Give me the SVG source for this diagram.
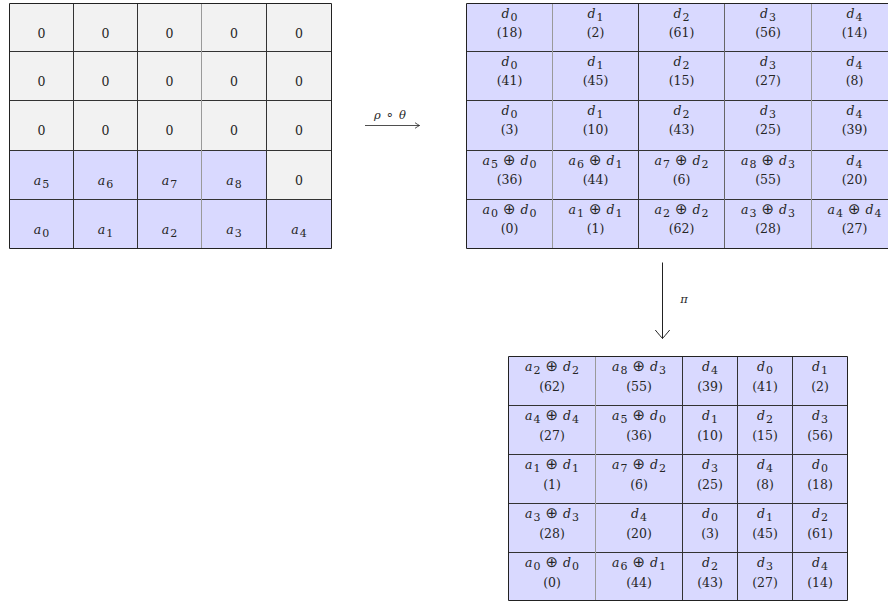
<svg xmlns="http://www.w3.org/2000/svg" width="888" height="603" viewBox="0 0 888 603">
  <style>
    .g { fill: #f2f2f2; }
    .b { fill: #d9d9ff; }
    .lb { font-family: "DejaVu Serif", "Liberation Serif", serif; font-size: 12.5px; fill: #262626; text-anchor: middle; }
    .i { font-style: italic; }
    .s { font-size: 11px; font-style: normal; }
    .o { font-family: "DejaVu Sans", sans-serif; font-size: 15px; font-style: normal; }
    .rule { fill: none; stroke: #333; stroke-width: 1; }
    .rule-mid { fill: none; stroke: #666; stroke-width: 1; }
    .rule-lt { fill: none; stroke: #9a9a9a; stroke-width: 1; }
    .edge { fill: none; stroke: #222; stroke-width: 1; }
    .ml { font-family: "DejaVu Serif", "Liberation Serif", serif; font-size: 11.5px; fill: #262626; text-anchor: middle; }
    .ring { font-family: "DejaVu Sans", sans-serif; font-size: 13px; font-style: normal; }
  </style>
  <defs>
    <marker id="to-small" markerUnits="userSpaceOnUse" viewBox="-6 -4 8 8" refX="0" refY="0" markerWidth="8" markerHeight="8" orient="auto" overflow="visible">
      <path d="M-4.5,-2.8 Q-1.3,-0.6 0,0 Q-1.3,0.6 -4.5,2.8" fill="none" stroke="#222" stroke-width="0.8"/>
    </marker>
    <marker id="to-large" markerUnits="userSpaceOnUse" viewBox="-10 -8 12 16" refX="0" refY="0" markerWidth="12" markerHeight="16" orient="auto" overflow="visible">
      <path d="M-8.5,-7.2 Q-2.2,-2 0,0 Q-2.2,2 -8.5,7.2" fill="none" stroke="#222" stroke-width="1"/>
    </marker>
  </defs>

  <!-- input matrix: zero padding above the a_i values -->
  <g id="input">
    <g id="in-0-0"><rect class="g" x="9.5" y="3.5" width="64" height="48"/><text class="lb" x="41.5" y="38">0</text></g>
    <g id="in-0-1"><rect class="g" x="73.5" y="3.5" width="64" height="48"/><text class="lb" x="105.5" y="38">0</text></g>
    <g id="in-0-2"><rect class="g" x="137.5" y="3.5" width="64" height="48"/><text class="lb" x="169.5" y="38">0</text></g>
    <g id="in-0-3"><rect class="g" x="201.5" y="3.5" width="65" height="48"/><text class="lb" x="234" y="38">0</text></g>
    <g id="in-0-4"><rect class="g" x="266.5" y="3.5" width="65" height="48"/><text class="lb" x="299" y="38">0</text></g>

    <g id="in-1-0"><rect class="g" x="9.5" y="51.5" width="64" height="49"/><text class="lb" x="41.5" y="86">0</text></g>
    <g id="in-1-1"><rect class="g" x="73.5" y="51.5" width="64" height="49"/><text class="lb" x="105.5" y="86">0</text></g>
    <g id="in-1-2"><rect class="g" x="137.5" y="51.5" width="64" height="49"/><text class="lb" x="169.5" y="86">0</text></g>
    <g id="in-1-3"><rect class="g" x="201.5" y="51.5" width="65" height="49"/><text class="lb" x="234" y="86">0</text></g>
    <g id="in-1-4"><rect class="g" x="266.5" y="51.5" width="65" height="49"/><text class="lb" x="299" y="86">0</text></g>

    <g id="in-2-0"><rect class="g" x="9.5" y="100.5" width="64" height="50"/><text class="lb" x="41.5" y="135">0</text></g>
    <g id="in-2-1"><rect class="g" x="73.5" y="100.5" width="64" height="50"/><text class="lb" x="105.5" y="135">0</text></g>
    <g id="in-2-2"><rect class="g" x="137.5" y="100.5" width="64" height="50"/><text class="lb" x="169.5" y="135">0</text></g>
    <g id="in-2-3"><rect class="g" x="201.5" y="100.5" width="65" height="50"/><text class="lb" x="234" y="135">0</text></g>
    <g id="in-2-4"><rect class="g" x="266.5" y="100.5" width="65" height="50"/><text class="lb" x="299" y="135">0</text></g>

    <g id="in-3-0"><rect class="b" x="9.5" y="150.5" width="64" height="49"/><text class="lb" x="41.5" y="185"><tspan class="i">a</tspan><tspan class="s" dx="1" dy="3">5</tspan></text></g>
    <g id="in-3-1"><rect class="b" x="73.5" y="150.5" width="64" height="49"/><text class="lb" x="105.5" y="185"><tspan class="i">a</tspan><tspan class="s" dx="1" dy="3">6</tspan></text></g>
    <g id="in-3-2"><rect class="b" x="137.5" y="150.5" width="64" height="49"/><text class="lb" x="169.5" y="185"><tspan class="i">a</tspan><tspan class="s" dx="1" dy="3">7</tspan></text></g>
    <g id="in-3-3"><rect class="b" x="201.5" y="150.5" width="65" height="49"/><text class="lb" x="234" y="185"><tspan class="i">a</tspan><tspan class="s" dx="1" dy="3">8</tspan></text></g>
    <g id="in-3-4"><rect class="g" x="266.5" y="150.5" width="65" height="49"/><text class="lb" x="299" y="185">0</text></g>

    <g id="in-4-0"><rect class="b" x="9.5" y="199.5" width="64" height="49"/><text class="lb" x="41.5" y="234"><tspan class="i">a</tspan><tspan class="s" dx="1" dy="3">0</tspan></text></g>
    <g id="in-4-1"><rect class="b" x="73.5" y="199.5" width="64" height="49"/><text class="lb" x="105.5" y="234"><tspan class="i">a</tspan><tspan class="s" dx="1" dy="3">1</tspan></text></g>
    <g id="in-4-2"><rect class="b" x="137.5" y="199.5" width="64" height="49"/><text class="lb" x="169.5" y="234"><tspan class="i">a</tspan><tspan class="s" dx="1" dy="3">2</tspan></text></g>
    <g id="in-4-3"><rect class="b" x="201.5" y="199.5" width="65" height="49"/><text class="lb" x="234" y="234"><tspan class="i">a</tspan><tspan class="s" dx="1" dy="3">3</tspan></text></g>
    <g id="in-4-4"><rect class="b" x="266.5" y="199.5" width="65" height="49"/><text class="lb" x="299" y="234"><tspan class="i">a</tspan><tspan class="s" dx="1" dy="3">4</tspan></text></g>

    <path class="rule" d="M9.5,51.5H331.5M9.5,100.5H331.5M9.5,150.5H331.5M9.5,199.5H331.5M73.5,3.5V248.5M137.5,3.5V248.5M266.5,3.5V248.5"/>
    <path class="rule-lt" d="M201.5,3.5V248.5"/>
    <path class="edge" d="M9.5,3.5H331.5V248.5H9.5Z"/>
  </g>

  <!-- encoded matrix after rho o theta -->
  <g id="encoded">
    <g id="enc-0-0"><rect class="b" x="466.5" y="3.5" width="86" height="48"/><text class="lb" x="509.5" y="17.5"><tspan class="i">d</tspan><tspan class="s" dx="1" dy="3">0</tspan></text><text class="lb" x="509.5" y="36.5">(18)</text></g>
    <g id="enc-0-1"><rect class="b" x="552.5" y="3.5" width="86" height="48"/><text class="lb" x="595.5" y="17.5"><tspan class="i">d</tspan><tspan class="s" dx="1" dy="3">1</tspan></text><text class="lb" x="595.5" y="36.5">(2)</text></g>
    <g id="enc-0-2"><rect class="b" x="638.5" y="3.5" width="86" height="48"/><text class="lb" x="681.5" y="17.5"><tspan class="i">d</tspan><tspan class="s" dx="1" dy="3">2</tspan></text><text class="lb" x="681.5" y="36.5">(61)</text></g>
    <g id="enc-0-3"><rect class="b" x="724.5" y="3.5" width="87" height="48"/><text class="lb" x="768" y="17.5"><tspan class="i">d</tspan><tspan class="s" dx="1" dy="3">3</tspan></text><text class="lb" x="768" y="36.5">(56)</text></g>
    <g id="enc-0-4"><rect class="b" x="811.5" y="3.5" width="86" height="48"/><text class="lb" x="854.5" y="17.5"><tspan class="i">d</tspan><tspan class="s" dx="1" dy="3">4</tspan></text><text class="lb" x="854.5" y="36.5">(14)</text></g>

    <g id="enc-1-0"><rect class="b" x="466.5" y="51.5" width="86" height="49"/><text class="lb" x="509.5" y="65.5"><tspan class="i">d</tspan><tspan class="s" dx="1" dy="3">0</tspan></text><text class="lb" x="509.5" y="84.5">(41)</text></g>
    <g id="enc-1-1"><rect class="b" x="552.5" y="51.5" width="86" height="49"/><text class="lb" x="595.5" y="65.5"><tspan class="i">d</tspan><tspan class="s" dx="1" dy="3">1</tspan></text><text class="lb" x="595.5" y="84.5">(45)</text></g>
    <g id="enc-1-2"><rect class="b" x="638.5" y="51.5" width="86" height="49"/><text class="lb" x="681.5" y="65.5"><tspan class="i">d</tspan><tspan class="s" dx="1" dy="3">2</tspan></text><text class="lb" x="681.5" y="84.5">(15)</text></g>
    <g id="enc-1-3"><rect class="b" x="724.5" y="51.5" width="87" height="49"/><text class="lb" x="768" y="65.5"><tspan class="i">d</tspan><tspan class="s" dx="1" dy="3">3</tspan></text><text class="lb" x="768" y="84.5">(27)</text></g>
    <g id="enc-1-4"><rect class="b" x="811.5" y="51.5" width="86" height="49"/><text class="lb" x="854.5" y="65.5"><tspan class="i">d</tspan><tspan class="s" dx="1" dy="3">4</tspan></text><text class="lb" x="854.5" y="84.5">(8)</text></g>

    <g id="enc-2-0"><rect class="b" x="466.5" y="100.5" width="86" height="50"/><text class="lb" x="509.5" y="114.5"><tspan class="i">d</tspan><tspan class="s" dx="1" dy="3">0</tspan></text><text class="lb" x="509.5" y="133.5">(3)</text></g>
    <g id="enc-2-1"><rect class="b" x="552.5" y="100.5" width="86" height="50"/><text class="lb" x="595.5" y="114.5"><tspan class="i">d</tspan><tspan class="s" dx="1" dy="3">1</tspan></text><text class="lb" x="595.5" y="133.5">(10)</text></g>
    <g id="enc-2-2"><rect class="b" x="638.5" y="100.5" width="86" height="50"/><text class="lb" x="681.5" y="114.5"><tspan class="i">d</tspan><tspan class="s" dx="1" dy="3">2</tspan></text><text class="lb" x="681.5" y="133.5">(43)</text></g>
    <g id="enc-2-3"><rect class="b" x="724.5" y="100.5" width="87" height="50"/><text class="lb" x="768" y="114.5"><tspan class="i">d</tspan><tspan class="s" dx="1" dy="3">3</tspan></text><text class="lb" x="768" y="133.5">(25)</text></g>
    <g id="enc-2-4"><rect class="b" x="811.5" y="100.5" width="86" height="50"/><text class="lb" x="854.5" y="114.5"><tspan class="i">d</tspan><tspan class="s" dx="1" dy="3">4</tspan></text><text class="lb" x="854.5" y="133.5">(39)</text></g>

    <g id="enc-3-0"><rect class="b" x="466.5" y="150.5" width="86" height="49"/><text class="lb" x="509.5" y="164.5"><tspan class="i">a</tspan><tspan class="s" dx="1" dy="3">5</tspan><tspan class="o" dx="5" dy="-3">⊕</tspan><tspan class="i" dx="5">d</tspan><tspan class="s" dx="1" dy="3">0</tspan></text><text class="lb" x="509.5" y="183.5">(36)</text></g>
    <g id="enc-3-1"><rect class="b" x="552.5" y="150.5" width="86" height="49"/><text class="lb" x="595.5" y="164.5"><tspan class="i">a</tspan><tspan class="s" dx="1" dy="3">6</tspan><tspan class="o" dx="5" dy="-3">⊕</tspan><tspan class="i" dx="5">d</tspan><tspan class="s" dx="1" dy="3">1</tspan></text><text class="lb" x="595.5" y="183.5">(44)</text></g>
    <g id="enc-3-2"><rect class="b" x="638.5" y="150.5" width="86" height="49"/><text class="lb" x="681.5" y="164.5"><tspan class="i">a</tspan><tspan class="s" dx="1" dy="3">7</tspan><tspan class="o" dx="5" dy="-3">⊕</tspan><tspan class="i" dx="5">d</tspan><tspan class="s" dx="1" dy="3">2</tspan></text><text class="lb" x="681.5" y="183.5">(6)</text></g>
    <g id="enc-3-3"><rect class="b" x="724.5" y="150.5" width="87" height="49"/><text class="lb" x="768" y="164.5"><tspan class="i">a</tspan><tspan class="s" dx="1" dy="3">8</tspan><tspan class="o" dx="5" dy="-3">⊕</tspan><tspan class="i" dx="5">d</tspan><tspan class="s" dx="1" dy="3">3</tspan></text><text class="lb" x="768" y="183.5">(55)</text></g>
    <g id="enc-3-4"><rect class="b" x="811.5" y="150.5" width="86" height="49"/><text class="lb" x="854.5" y="164.5"><tspan class="i">d</tspan><tspan class="s" dx="1" dy="3">4</tspan></text><text class="lb" x="854.5" y="183.5">(20)</text></g>

    <g id="enc-4-0"><rect class="b" x="466.5" y="199.5" width="86" height="49"/><text class="lb" x="509.5" y="213.5"><tspan class="i">a</tspan><tspan class="s" dx="1" dy="3">0</tspan><tspan class="o" dx="5" dy="-3">⊕</tspan><tspan class="i" dx="5">d</tspan><tspan class="s" dx="1" dy="3">0</tspan></text><text class="lb" x="509.5" y="232.5">(0)</text></g>
    <g id="enc-4-1"><rect class="b" x="552.5" y="199.5" width="86" height="49"/><text class="lb" x="595.5" y="213.5"><tspan class="i">a</tspan><tspan class="s" dx="1" dy="3">1</tspan><tspan class="o" dx="5" dy="-3">⊕</tspan><tspan class="i" dx="5">d</tspan><tspan class="s" dx="1" dy="3">1</tspan></text><text class="lb" x="595.5" y="232.5">(1)</text></g>
    <g id="enc-4-2"><rect class="b" x="638.5" y="199.5" width="86" height="49"/><text class="lb" x="681.5" y="213.5"><tspan class="i">a</tspan><tspan class="s" dx="1" dy="3">2</tspan><tspan class="o" dx="5" dy="-3">⊕</tspan><tspan class="i" dx="5">d</tspan><tspan class="s" dx="1" dy="3">2</tspan></text><text class="lb" x="681.5" y="232.5">(62)</text></g>
    <g id="enc-4-3"><rect class="b" x="724.5" y="199.5" width="87" height="49"/><text class="lb" x="768" y="213.5"><tspan class="i">a</tspan><tspan class="s" dx="1" dy="3">3</tspan><tspan class="o" dx="5" dy="-3">⊕</tspan><tspan class="i" dx="5">d</tspan><tspan class="s" dx="1" dy="3">3</tspan></text><text class="lb" x="768" y="232.5">(28)</text></g>
    <g id="enc-4-4"><rect class="b" x="811.5" y="199.5" width="86" height="49"/><text class="lb" x="854.5" y="213.5"><tspan class="i">a</tspan><tspan class="s" dx="1" dy="3">4</tspan><tspan class="o" dx="5" dy="-3">⊕</tspan><tspan class="i" dx="5">d</tspan><tspan class="s" dx="1" dy="3">4</tspan></text><text class="lb" x="854.5" y="232.5">(27)</text></g>

    <path class="rule" d="M466.5,51.5H897.5M466.5,100.5H897.5M466.5,150.5H897.5M466.5,199.5H897.5M638.5,3.5V248.5"/>
    <path class="rule-mid" d="M724.5,3.5V248.5"/>
    <path class="rule-lt" d="M552.5,3.5V248.5M811.5,3.5V248.5"/>
    <path class="edge" d="M466.5,3.5H897.5V248.5H466.5Z"/>
  </g>

  <!-- permuted matrix after pi -->
  <g id="permuted">
    <g id="perm-0-0"><rect class="b" x="508.5" y="356.5" width="87" height="49"/><text class="lb" x="552" y="371"><tspan class="i">a</tspan><tspan class="s" dx="1" dy="3">2</tspan><tspan class="o" dx="5" dy="-3">⊕</tspan><tspan class="i" dx="5">d</tspan><tspan class="s" dx="1" dy="3">2</tspan></text><text class="lb" x="552" y="390.5">(62)</text></g>
    <g id="perm-0-1"><rect class="b" x="595.5" y="356.5" width="87" height="49"/><text class="lb" x="639" y="371"><tspan class="i">a</tspan><tspan class="s" dx="1" dy="3">8</tspan><tspan class="o" dx="5" dy="-3">⊕</tspan><tspan class="i" dx="5">d</tspan><tspan class="s" dx="1" dy="3">3</tspan></text><text class="lb" x="639" y="390.5">(55)</text></g>
    <g id="perm-0-2"><rect class="b" x="682.5" y="356.5" width="55" height="49"/><text class="lb" x="710" y="371"><tspan class="i">d</tspan><tspan class="s" dx="1" dy="3">4</tspan></text><text class="lb" x="710" y="390.5">(39)</text></g>
    <g id="perm-0-3"><rect class="b" x="737.5" y="356.5" width="55" height="49"/><text class="lb" x="765" y="371"><tspan class="i">d</tspan><tspan class="s" dx="1" dy="3">0</tspan></text><text class="lb" x="765" y="390.5">(41)</text></g>
    <g id="perm-0-4"><rect class="b" x="792.5" y="356.5" width="55" height="49"/><text class="lb" x="820" y="371"><tspan class="i">d</tspan><tspan class="s" dx="1" dy="3">1</tspan></text><text class="lb" x="820" y="390.5">(2)</text></g>

    <g id="perm-1-0"><rect class="b" x="508.5" y="405.5" width="87" height="49"/><text class="lb" x="552" y="420"><tspan class="i">a</tspan><tspan class="s" dx="1" dy="3">4</tspan><tspan class="o" dx="5" dy="-3">⊕</tspan><tspan class="i" dx="5">d</tspan><tspan class="s" dx="1" dy="3">4</tspan></text><text class="lb" x="552" y="439.5">(27)</text></g>
    <g id="perm-1-1"><rect class="b" x="595.5" y="405.5" width="87" height="49"/><text class="lb" x="639" y="420"><tspan class="i">a</tspan><tspan class="s" dx="1" dy="3">5</tspan><tspan class="o" dx="5" dy="-3">⊕</tspan><tspan class="i" dx="5">d</tspan><tspan class="s" dx="1" dy="3">0</tspan></text><text class="lb" x="639" y="439.5">(36)</text></g>
    <g id="perm-1-2"><rect class="b" x="682.5" y="405.5" width="55" height="49"/><text class="lb" x="710" y="420"><tspan class="i">d</tspan><tspan class="s" dx="1" dy="3">1</tspan></text><text class="lb" x="710" y="439.5">(10)</text></g>
    <g id="perm-1-3"><rect class="b" x="737.5" y="405.5" width="55" height="49"/><text class="lb" x="765" y="420"><tspan class="i">d</tspan><tspan class="s" dx="1" dy="3">2</tspan></text><text class="lb" x="765" y="439.5">(15)</text></g>
    <g id="perm-1-4"><rect class="b" x="792.5" y="405.5" width="55" height="49"/><text class="lb" x="820" y="420"><tspan class="i">d</tspan><tspan class="s" dx="1" dy="3">3</tspan></text><text class="lb" x="820" y="439.5">(56)</text></g>

    <g id="perm-2-0"><rect class="b" x="508.5" y="454.5" width="87" height="49"/><text class="lb" x="552" y="469"><tspan class="i">a</tspan><tspan class="s" dx="1" dy="3">1</tspan><tspan class="o" dx="5" dy="-3">⊕</tspan><tspan class="i" dx="5">d</tspan><tspan class="s" dx="1" dy="3">1</tspan></text><text class="lb" x="552" y="488.5">(1)</text></g>
    <g id="perm-2-1"><rect class="b" x="595.5" y="454.5" width="87" height="49"/><text class="lb" x="639" y="469"><tspan class="i">a</tspan><tspan class="s" dx="1" dy="3">7</tspan><tspan class="o" dx="5" dy="-3">⊕</tspan><tspan class="i" dx="5">d</tspan><tspan class="s" dx="1" dy="3">2</tspan></text><text class="lb" x="639" y="488.5">(6)</text></g>
    <g id="perm-2-2"><rect class="b" x="682.5" y="454.5" width="55" height="49"/><text class="lb" x="710" y="469"><tspan class="i">d</tspan><tspan class="s" dx="1" dy="3">3</tspan></text><text class="lb" x="710" y="488.5">(25)</text></g>
    <g id="perm-2-3"><rect class="b" x="737.5" y="454.5" width="55" height="49"/><text class="lb" x="765" y="469"><tspan class="i">d</tspan><tspan class="s" dx="1" dy="3">4</tspan></text><text class="lb" x="765" y="488.5">(8)</text></g>
    <g id="perm-2-4"><rect class="b" x="792.5" y="454.5" width="55" height="49"/><text class="lb" x="820" y="469"><tspan class="i">d</tspan><tspan class="s" dx="1" dy="3">0</tspan></text><text class="lb" x="820" y="488.5">(18)</text></g>

    <g id="perm-3-0"><rect class="b" x="508.5" y="503.5" width="87" height="49"/><text class="lb" x="552" y="518"><tspan class="i">a</tspan><tspan class="s" dx="1" dy="3">3</tspan><tspan class="o" dx="5" dy="-3">⊕</tspan><tspan class="i" dx="5">d</tspan><tspan class="s" dx="1" dy="3">3</tspan></text><text class="lb" x="552" y="537.5">(28)</text></g>
    <g id="perm-3-1"><rect class="b" x="595.5" y="503.5" width="87" height="49"/><text class="lb" x="639" y="518"><tspan class="i">d</tspan><tspan class="s" dx="1" dy="3">4</tspan></text><text class="lb" x="639" y="537.5">(20)</text></g>
    <g id="perm-3-2"><rect class="b" x="682.5" y="503.5" width="55" height="49"/><text class="lb" x="710" y="518"><tspan class="i">d</tspan><tspan class="s" dx="1" dy="3">0</tspan></text><text class="lb" x="710" y="537.5">(3)</text></g>
    <g id="perm-3-3"><rect class="b" x="737.5" y="503.5" width="55" height="49"/><text class="lb" x="765" y="518"><tspan class="i">d</tspan><tspan class="s" dx="1" dy="3">1</tspan></text><text class="lb" x="765" y="537.5">(45)</text></g>
    <g id="perm-3-4"><rect class="b" x="792.5" y="503.5" width="55" height="49"/><text class="lb" x="820" y="518"><tspan class="i">d</tspan><tspan class="s" dx="1" dy="3">2</tspan></text><text class="lb" x="820" y="537.5">(61)</text></g>

    <g id="perm-4-0"><rect class="b" x="508.5" y="552.5" width="87" height="48"/><text class="lb" x="552" y="567"><tspan class="i">a</tspan><tspan class="s" dx="1" dy="3">0</tspan><tspan class="o" dx="5" dy="-3">⊕</tspan><tspan class="i" dx="5">d</tspan><tspan class="s" dx="1" dy="3">0</tspan></text><text class="lb" x="552" y="586.5">(0)</text></g>
    <g id="perm-4-1"><rect class="b" x="595.5" y="552.5" width="87" height="48"/><text class="lb" x="639" y="567"><tspan class="i">a</tspan><tspan class="s" dx="1" dy="3">6</tspan><tspan class="o" dx="5" dy="-3">⊕</tspan><tspan class="i" dx="5">d</tspan><tspan class="s" dx="1" dy="3">1</tspan></text><text class="lb" x="639" y="586.5">(44)</text></g>
    <g id="perm-4-2"><rect class="b" x="682.5" y="552.5" width="55" height="48"/><text class="lb" x="710" y="567"><tspan class="i">d</tspan><tspan class="s" dx="1" dy="3">2</tspan></text><text class="lb" x="710" y="586.5">(43)</text></g>
    <g id="perm-4-3"><rect class="b" x="737.5" y="552.5" width="55" height="48"/><text class="lb" x="765" y="567"><tspan class="i">d</tspan><tspan class="s" dx="1" dy="3">3</tspan></text><text class="lb" x="765" y="586.5">(27)</text></g>
    <g id="perm-4-4"><rect class="b" x="792.5" y="552.5" width="55" height="48"/><text class="lb" x="820" y="567"><tspan class="i">d</tspan><tspan class="s" dx="1" dy="3">4</tspan></text><text class="lb" x="820" y="586.5">(14)</text></g>

    <path class="rule" d="M508.5,405.5H847.5M508.5,454.5H847.5M508.5,503.5H847.5M508.5,552.5H847.5M682.5,356.5V600.5M737.5,356.5V600.5M792.5,356.5V600.5"/>
    <path class="rule-lt" d="M595.5,356.5V600.5"/>
    <path class="edge" d="M508.5,356.5H847.5V600.5H508.5Z"/>
  </g>

  <!-- maps between the matrices -->
  <g id="connectors">
    <path d="M365,125.5H419.5" fill="none" stroke="#222" stroke-width="0.8" marker-end="url(#to-small)"/>
    <text class="ml" x="390" y="119"><tspan class="i">ρ</tspan><tspan class="ring" dx="5">∘</tspan><tspan class="i" dx="5">θ</tspan></text>
    <path d="M662.5,262.5V338.5" fill="none" stroke="#222" stroke-width="1" marker-end="url(#to-large)"/>
    <text class="ml" x="684" y="303"><tspan class="i">π</tspan></text>
  </g>
</svg>
